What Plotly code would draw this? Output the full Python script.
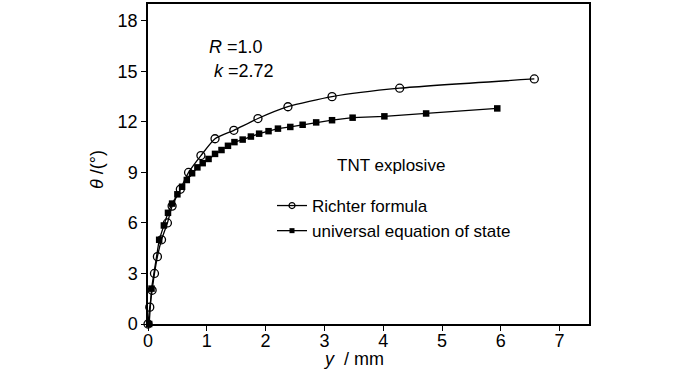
import plotly.graph_objects as go

# Richter formula (open circles)
richter_x = [0, 0.03, 0.07, 0.11, 0.16, 0.23, 0.33, 0.41, 0.55, 0.69, 0.90, 1.14, 1.46, 1.87, 2.38, 3.13, 4.28, 6.57]
richter_y = [0, 1.0, 2.0, 3.0, 4.0, 5.0, 6.0, 7.0, 8.0, 9.0, 10.0, 11.0, 11.5, 12.2, 12.9, 13.5, 14.0, 14.55]

# universal equation of state (filled squares)
ues_x = [0.02, 0.06, 0.19, 0.27, 0.34, 0.41, 0.50, 0.58, 0.66, 0.75, 0.84, 0.93, 1.03, 1.14, 1.25,
         1.36, 1.47, 1.61, 1.75, 1.89, 2.05, 2.21, 2.42, 2.63, 2.86, 3.13, 3.48, 4.02, 4.73, 5.94]
ues_y = [0, 2.1, 5.0, 5.85, 6.6, 7.15, 7.7, 8.15, 8.55, 8.95, 9.3, 9.55, 9.8, 10.1, 10.33,
         10.58, 10.8, 10.95, 11.13, 11.3, 11.45, 11.6, 11.7, 11.83, 11.97, 12.1, 12.25, 12.33, 12.5, 12.8]

x_ticks = [0, 1, 2, 3, 4, 5, 6, 7]
y_ticks = [0, 3, 6, 9, 12, 15, 18]

FONT = "Liberation Sans, Arial, sans-serif"

L, R, T, B = 148, 589, 4, 324
def px2paper(px, py):
    return (px - L) / (R - L), (B - py) / (B - T)

fig = go.Figure()
fig.add_trace(go.Scatter(
    x=richter_x, y=richter_y, mode="lines+markers", showlegend=False,
    line=dict(color="black", width=1.3, shape="spline", smoothing=0.6),
    marker=dict(symbol="circle-open", size=8, color="black", line=dict(width=1.3)),
    cliponaxis=False,
))
fig.add_trace(go.Scatter(
    x=ues_x, y=ues_y, mode="lines+markers", showlegend=False,
    line=dict(color="black", width=1.3),
    marker=dict(symbol="square", size=6.5, color="black"),
    cliponaxis=False,
))
# legend-only entries with smaller markers
fig.add_trace(go.Scatter(
    x=[None], y=[None], mode="lines+markers", name="Richter formula",
    line=dict(color="black", width=1.3),
    marker=dict(symbol="circle-open", size=6, color="black", line=dict(width=1.2)),
))
fig.add_trace(go.Scatter(
    x=[None], y=[None], mode="lines+markers", name="universal equation of state",
    line=dict(color="black", width=1.3),
    marker=dict(symbol="square", size=5, color="black"),
))

axis_common = dict(
    showline=True, linecolor="black", linewidth=1.5, mirror=True,
    ticks="outside", ticklen=5, tickwidth=1.3, tickcolor="black",
    showgrid=False, zeroline=False, automargin=False,
    tickfont=dict(family=FONT, size=18, color="black"),
)
fig.update_xaxes(range=[0, 7.5], tickvals=x_ticks, ticklabelstandoff=-5, **axis_common)
fig.update_yaxes(range=[0, 19], tickvals=y_ticks, **axis_common)

ytx, yty = px2paper(97, 170)
xtx, xty = px2paper(353, 359)
rx, ry = px2paper(207, 47)
kx, ky = px2paper(212, 71)
tx, ty = px2paper(391, 165)
lx, ly = px2paper(272, 188)

def ann(text, x, y, xa="center", size=18, **kw):
    return dict(text=text, x=x, y=y, xref="paper", yref="paper", xanchor=xa,
                yanchor="middle", showarrow=False,
                font=dict(family=FONT, size=size, color="black"), **kw)

fig.update_layout(
    width=700, height=373,
    margin=dict(l=L, r=700 - R, t=T, b=373 - B, autoexpand=False),
    paper_bgcolor="white", plot_bgcolor="white",
    font=dict(family=FONT, size=17, color="black"),
    legend=dict(x=lx, y=ly, xanchor="left", yanchor="top",
                bgcolor="rgba(0,0,0,0)", itemwidth=30,
                font=dict(family=FONT, size=17, color="black"),
                tracegroupgap=0),
    annotations=[
        ann("<i>θ</i> /(°)", ytx, yty, textangle=-90),
        ann("<i>y</i>  / mm", xtx, xty),
        ann("<i>R</i> =1.0", rx, ry, xa="left"),
        ann("<i>k</i> =2.72", kx, ky, xa="left"),
        ann("TNT explosive", tx, ty, size=17),
    ],
)

fig.write_html("out.html", config={"displayModeBar": False},
               post_script="document.body.style.margin='0';document.body.style.padding='0';")
